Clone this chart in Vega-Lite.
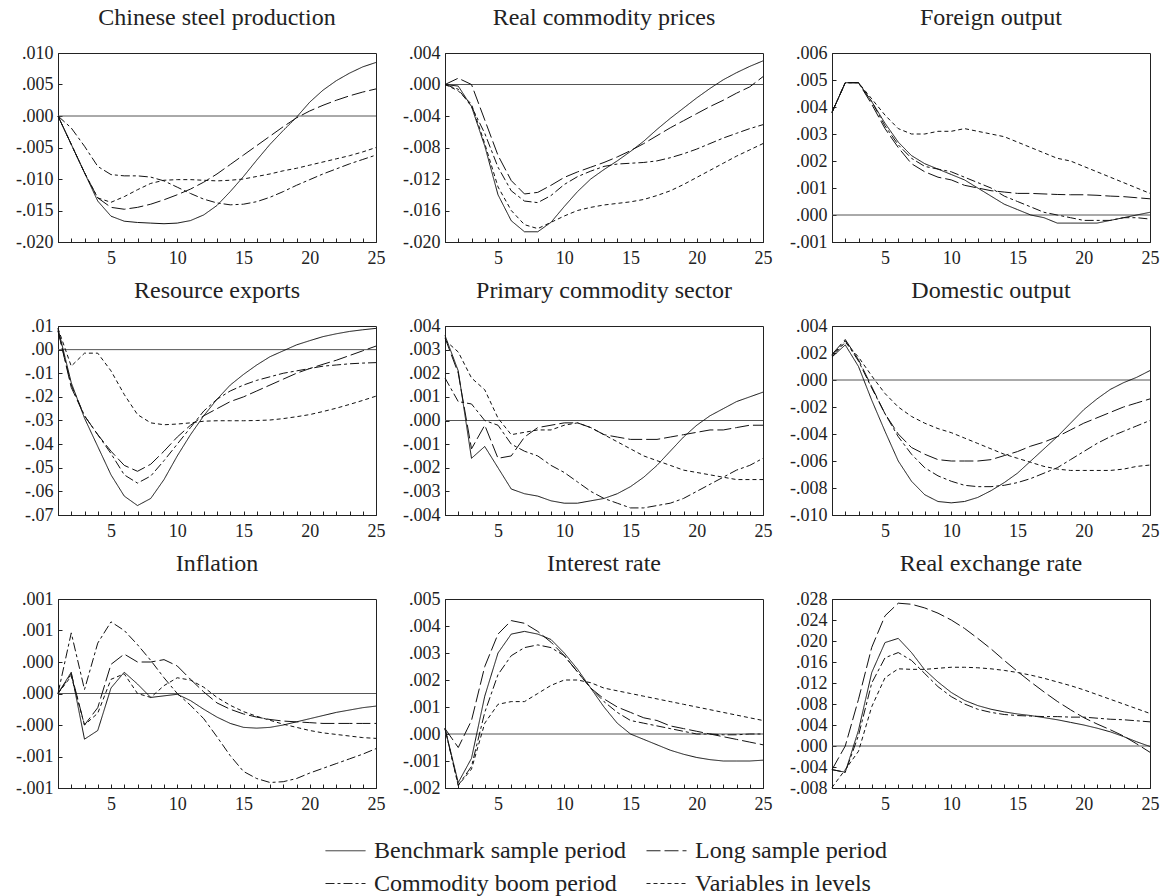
{
"$schema": "https://vega.github.io/schema/vega-lite/v6.json",
"padding": {"left": 7, "top": 5, "right": 3, "bottom": 0},
"autosize": {"type": "pad"},
"columns": 3,
"spacing": {"row": 9, "column": 8},
"config": {
  "font": "Liberation Serif, DejaVu Serif, serif",
  "view": {"stroke": "#222", "strokeWidth": 1},
  "title": {"fontSize": 24, "fontWeight": "normal", "font": "Liberation Serif, DejaVu Serif, serif", "color": "#222", "offset": 14, "anchor": "middle"},
  "axis": {"grid": false, "domainColor": "#222", "tickColor": "#222", "labelColor": "#222", "labelFont": "Liberation Serif, DejaVu Serif, serif", "labelFontSize": 18, "tickSize": -4, "labelFlush": false, "labelOverlap": false},
  "axisX": {"labelPadding": 11, "minExtent": 26, "maxExtent": 26},
  "axisY": {"labelPadding": 9, "minExtent": 50, "maxExtent": 50}
},
"data": {"values": [
{"p":1,"s":"B","t":1,"v":0},{"p":1,"s":"B","t":2,"v":-0.0045},{"p":1,"s":"B","t":3,"v":-0.009},{"p":1,"s":"B","t":4,"v":-0.0135},{"p":1,"s":"B","t":5,"v":-0.0159},{"p":1,"s":"B","t":6,"v":-0.0167},{"p":1,"s":"B","t":7,"v":-0.0169},{"p":1,"s":"B","t":8,"v":-0.017},{"p":1,"s":"B","t":9,"v":-0.0171},{"p":1,"s":"B","t":10,"v":-0.017},{"p":1,"s":"B","t":11,"v":-0.0166},{"p":1,"s":"B","t":12,"v":-0.0157},{"p":1,"s":"B","t":13,"v":-0.0142},{"p":1,"s":"B","t":14,"v":-0.012},{"p":1,"s":"B","t":15,"v":-0.0096},{"p":1,"s":"B","t":16,"v":-0.007},{"p":1,"s":"B","t":17,"v":-0.0045},{"p":1,"s":"B","t":18,"v":-0.0023},{"p":1,"s":"B","t":19,"v":-0.0002},{"p":1,"s":"B","t":20,"v":0.0022},{"p":1,"s":"B","t":21,"v":0.0041},{"p":1,"s":"B","t":22,"v":0.0056},{"p":1,"s":"B","t":23,"v":0.0068},{"p":1,"s":"B","t":24,"v":0.0078},{"p":1,"s":"B","t":25,"v":0.0085},
{"p":1,"s":"L","t":1,"v":0},{"p":1,"s":"L","t":2,"v":-0.0045},{"p":1,"s":"L","t":3,"v":-0.009},{"p":1,"s":"L","t":4,"v":-0.013},{"p":1,"s":"L","t":5,"v":-0.0145},{"p":1,"s":"L","t":6,"v":-0.0148},{"p":1,"s":"L","t":7,"v":-0.0145},{"p":1,"s":"L","t":8,"v":-0.014},{"p":1,"s":"L","t":9,"v":-0.0133},{"p":1,"s":"L","t":10,"v":-0.0125},{"p":1,"s":"L","t":11,"v":-0.0116},{"p":1,"s":"L","t":12,"v":-0.0105},{"p":1,"s":"L","t":13,"v":-0.0092},{"p":1,"s":"L","t":14,"v":-0.0077},{"p":1,"s":"L","t":15,"v":-0.0062},{"p":1,"s":"L","t":16,"v":-0.0047},{"p":1,"s":"L","t":17,"v":-0.0032},{"p":1,"s":"L","t":18,"v":-0.0017},{"p":1,"s":"L","t":19,"v":-0.0003},{"p":1,"s":"L","t":20,"v":0.0008},{"p":1,"s":"L","t":21,"v":0.0017},{"p":1,"s":"L","t":22,"v":0.0025},{"p":1,"s":"L","t":23,"v":0.0032},{"p":1,"s":"L","t":24,"v":0.0038},{"p":1,"s":"L","t":25,"v":0.0043},
{"p":1,"s":"C","t":1,"v":0},{"p":1,"s":"C","t":2,"v":-0.0019},{"p":1,"s":"C","t":3,"v":-0.0048},{"p":1,"s":"C","t":4,"v":-0.008},{"p":1,"s":"C","t":5,"v":-0.0093},{"p":1,"s":"C","t":6,"v":-0.0095},{"p":1,"s":"C","t":7,"v":-0.0095},{"p":1,"s":"C","t":8,"v":-0.0097},{"p":1,"s":"C","t":9,"v":-0.0103},{"p":1,"s":"C","t":10,"v":-0.0113},{"p":1,"s":"C","t":11,"v":-0.0123},{"p":1,"s":"C","t":12,"v":-0.0132},{"p":1,"s":"C","t":13,"v":-0.0138},{"p":1,"s":"C","t":14,"v":-0.0141},{"p":1,"s":"C","t":15,"v":-0.014},{"p":1,"s":"C","t":16,"v":-0.0136},{"p":1,"s":"C","t":17,"v":-0.0129},{"p":1,"s":"C","t":18,"v":-0.012},{"p":1,"s":"C","t":19,"v":-0.011},{"p":1,"s":"C","t":20,"v":-0.0101},{"p":1,"s":"C","t":21,"v":-0.0092},{"p":1,"s":"C","t":22,"v":-0.0084},{"p":1,"s":"C","t":23,"v":-0.0076},{"p":1,"s":"C","t":24,"v":-0.0069},{"p":1,"s":"C","t":25,"v":-0.0062},
{"p":1,"s":"V","t":1,"v":0},{"p":1,"s":"V","t":2,"v":-0.0045},{"p":1,"s":"V","t":3,"v":-0.009},{"p":1,"s":"V","t":4,"v":-0.013},{"p":1,"s":"V","t":5,"v":-0.0137},{"p":1,"s":"V","t":6,"v":-0.0128},{"p":1,"s":"V","t":7,"v":-0.0117},{"p":1,"s":"V","t":8,"v":-0.0107},{"p":1,"s":"V","t":9,"v":-0.0102},{"p":1,"s":"V","t":10,"v":-0.0101},{"p":1,"s":"V","t":11,"v":-0.0101},{"p":1,"s":"V","t":12,"v":-0.0102},{"p":1,"s":"V","t":13,"v":-0.0103},{"p":1,"s":"V","t":14,"v":-0.0102},{"p":1,"s":"V","t":15,"v":-0.01},{"p":1,"s":"V","t":16,"v":-0.0096},{"p":1,"s":"V","t":17,"v":-0.0092},{"p":1,"s":"V","t":18,"v":-0.0087},{"p":1,"s":"V","t":19,"v":-0.0083},{"p":1,"s":"V","t":20,"v":-0.0078},{"p":1,"s":"V","t":21,"v":-0.0073},{"p":1,"s":"V","t":22,"v":-0.0068},{"p":1,"s":"V","t":23,"v":-0.0063},{"p":1,"s":"V","t":24,"v":-0.0057},{"p":1,"s":"V","t":25,"v":-0.005},
{"p":2,"s":"B","t":1,"v":0},{"p":2,"s":"B","t":2,"v":-0.0002},{"p":2,"s":"B","t":3,"v":-0.0028},{"p":2,"s":"B","t":4,"v":-0.0078},{"p":2,"s":"B","t":5,"v":-0.014},{"p":2,"s":"B","t":6,"v":-0.0173},{"p":2,"s":"B","t":7,"v":-0.0187},{"p":2,"s":"B","t":8,"v":-0.0187},{"p":2,"s":"B","t":9,"v":-0.0175},{"p":2,"s":"B","t":10,"v":-0.0155},{"p":2,"s":"B","t":11,"v":-0.0136},{"p":2,"s":"B","t":12,"v":-0.012},{"p":2,"s":"B","t":13,"v":-0.0108},{"p":2,"s":"B","t":14,"v":-0.0097},{"p":2,"s":"B","t":15,"v":-0.0085},{"p":2,"s":"B","t":16,"v":-0.0072},{"p":2,"s":"B","t":17,"v":-0.0057},{"p":2,"s":"B","t":18,"v":-0.0043},{"p":2,"s":"B","t":19,"v":-0.003},{"p":2,"s":"B","t":20,"v":-0.0017},{"p":2,"s":"B","t":21,"v":-0.0005},{"p":2,"s":"B","t":22,"v":0.0006},{"p":2,"s":"B","t":23,"v":0.0015},{"p":2,"s":"B","t":24,"v":0.0023},{"p":2,"s":"B","t":25,"v":0.003},
{"p":2,"s":"L","t":1,"v":0},{"p":2,"s":"L","t":2,"v":0.0008},{"p":2,"s":"L","t":3,"v":0},{"p":2,"s":"L","t":4,"v":-0.0045},{"p":2,"s":"L","t":5,"v":-0.009},{"p":2,"s":"L","t":6,"v":-0.0122},{"p":2,"s":"L","t":7,"v":-0.0139},{"p":2,"s":"L","t":8,"v":-0.0137},{"p":2,"s":"L","t":9,"v":-0.0128},{"p":2,"s":"L","t":10,"v":-0.0118},{"p":2,"s":"L","t":11,"v":-0.0111},{"p":2,"s":"L","t":12,"v":-0.0105},{"p":2,"s":"L","t":13,"v":-0.0099},{"p":2,"s":"L","t":14,"v":-0.0092},{"p":2,"s":"L","t":15,"v":-0.0084},{"p":2,"s":"L","t":16,"v":-0.0075},{"p":2,"s":"L","t":17,"v":-0.0065},{"p":2,"s":"L","t":18,"v":-0.0055},{"p":2,"s":"L","t":19,"v":-0.0046},{"p":2,"s":"L","t":20,"v":-0.0037},{"p":2,"s":"L","t":21,"v":-0.0028},{"p":2,"s":"L","t":22,"v":-0.002},{"p":2,"s":"L","t":23,"v":-0.0011},{"p":2,"s":"L","t":24,"v":-0.0003},{"p":2,"s":"L","t":25,"v":0.001},
{"p":2,"s":"C","t":1,"v":0},{"p":2,"s":"C","t":2,"v":-0.0006},{"p":2,"s":"C","t":3,"v":-0.0028},{"p":2,"s":"C","t":4,"v":-0.0062},{"p":2,"s":"C","t":5,"v":-0.0105},{"p":2,"s":"C","t":6,"v":-0.0135},{"p":2,"s":"C","t":7,"v":-0.0148},{"p":2,"s":"C","t":8,"v":-0.015},{"p":2,"s":"C","t":9,"v":-0.0141},{"p":2,"s":"C","t":10,"v":-0.0127},{"p":2,"s":"C","t":11,"v":-0.0117},{"p":2,"s":"C","t":12,"v":-0.011},{"p":2,"s":"C","t":13,"v":-0.0104},{"p":2,"s":"C","t":14,"v":-0.0101},{"p":2,"s":"C","t":15,"v":-0.01},{"p":2,"s":"C","t":16,"v":-0.0099},{"p":2,"s":"C","t":17,"v":-0.0097},{"p":2,"s":"C","t":18,"v":-0.0093},{"p":2,"s":"C","t":19,"v":-0.0088},{"p":2,"s":"C","t":20,"v":-0.0082},{"p":2,"s":"C","t":21,"v":-0.0075},{"p":2,"s":"C","t":22,"v":-0.0068},{"p":2,"s":"C","t":23,"v":-0.0062},{"p":2,"s":"C","t":24,"v":-0.0056},{"p":2,"s":"C","t":25,"v":-0.0051},
{"p":2,"s":"V","t":1,"v":0},{"p":2,"s":"V","t":2,"v":-0.0008},{"p":2,"s":"V","t":3,"v":-0.0025},{"p":2,"s":"V","t":4,"v":-0.0075},{"p":2,"s":"V","t":5,"v":-0.013},{"p":2,"s":"V","t":6,"v":-0.016},{"p":2,"s":"V","t":7,"v":-0.0178},{"p":2,"s":"V","t":8,"v":-0.0183},{"p":2,"s":"V","t":9,"v":-0.0175},{"p":2,"s":"V","t":10,"v":-0.0167},{"p":2,"s":"V","t":11,"v":-0.016},{"p":2,"s":"V","t":12,"v":-0.0156},{"p":2,"s":"V","t":13,"v":-0.0153},{"p":2,"s":"V","t":14,"v":-0.0151},{"p":2,"s":"V","t":15,"v":-0.0149},{"p":2,"s":"V","t":16,"v":-0.0146},{"p":2,"s":"V","t":17,"v":-0.0141},{"p":2,"s":"V","t":18,"v":-0.0135},{"p":2,"s":"V","t":19,"v":-0.0127},{"p":2,"s":"V","t":20,"v":-0.0118},{"p":2,"s":"V","t":21,"v":-0.0109},{"p":2,"s":"V","t":22,"v":-0.01},{"p":2,"s":"V","t":23,"v":-0.0091},{"p":2,"s":"V","t":24,"v":-0.0083},{"p":2,"s":"V","t":25,"v":-0.0075},
{"p":3,"s":"B","t":1,"v":0.0038},{"p":3,"s":"B","t":2,"v":0.0049},{"p":3,"s":"B","t":3,"v":0.0049},{"p":3,"s":"B","t":4,"v":0.0042},{"p":3,"s":"B","t":5,"v":0.0034},{"p":3,"s":"B","t":6,"v":0.0027},{"p":3,"s":"B","t":7,"v":0.0022},{"p":3,"s":"B","t":8,"v":0.0019},{"p":3,"s":"B","t":9,"v":0.0017},{"p":3,"s":"B","t":10,"v":0.0015},{"p":3,"s":"B","t":11,"v":0.0013},{"p":3,"s":"B","t":12,"v":0.001},{"p":3,"s":"B","t":13,"v":0.0007},{"p":3,"s":"B","t":14,"v":0.0004},{"p":3,"s":"B","t":15,"v":0.0002},{"p":3,"s":"B","t":16,"v":0},{"p":3,"s":"B","t":17,"v":-0.0001},{"p":3,"s":"B","t":18,"v":-0.0003},{"p":3,"s":"B","t":19,"v":-0.0003},{"p":3,"s":"B","t":20,"v":-0.0003},{"p":3,"s":"B","t":21,"v":-0.0003},{"p":3,"s":"B","t":22,"v":-0.0002},{"p":3,"s":"B","t":23,"v":-0.0001},{"p":3,"s":"B","t":24,"v":0},{"p":3,"s":"B","t":25,"v":0.0001},
{"p":3,"s":"L","t":1,"v":0.0038},{"p":3,"s":"L","t":2,"v":0.0049},{"p":3,"s":"L","t":3,"v":0.0049},{"p":3,"s":"L","t":4,"v":0.0041},{"p":3,"s":"L","t":5,"v":0.0032},{"p":3,"s":"L","t":6,"v":0.0025},{"p":3,"s":"L","t":7,"v":0.0019},{"p":3,"s":"L","t":8,"v":0.0016},{"p":3,"s":"L","t":9,"v":0.0014},{"p":3,"s":"L","t":10,"v":0.0013},{"p":3,"s":"L","t":11,"v":0.0011},{"p":3,"s":"L","t":12,"v":0.001},{"p":3,"s":"L","t":13,"v":0.0009},{"p":3,"s":"L","t":14,"v":0.00085},{"p":3,"s":"L","t":15,"v":0.0008},{"p":3,"s":"L","t":16,"v":0.0008},{"p":3,"s":"L","t":17,"v":0.00078},{"p":3,"s":"L","t":18,"v":0.00076},{"p":3,"s":"L","t":19,"v":0.00075},{"p":3,"s":"L","t":20,"v":0.00075},{"p":3,"s":"L","t":21,"v":0.00073},{"p":3,"s":"L","t":22,"v":0.0007},{"p":3,"s":"L","t":23,"v":0.00068},{"p":3,"s":"L","t":24,"v":0.00064},{"p":3,"s":"L","t":25,"v":0.0006},
{"p":3,"s":"C","t":1,"v":0.0038},{"p":3,"s":"C","t":2,"v":0.0049},{"p":3,"s":"C","t":3,"v":0.0049},{"p":3,"s":"C","t":4,"v":0.0042},{"p":3,"s":"C","t":5,"v":0.0033},{"p":3,"s":"C","t":6,"v":0.0026},{"p":3,"s":"C","t":7,"v":0.0021},{"p":3,"s":"C","t":8,"v":0.0018},{"p":3,"s":"C","t":9,"v":0.0017},{"p":3,"s":"C","t":10,"v":0.0016},{"p":3,"s":"C","t":11,"v":0.0014},{"p":3,"s":"C","t":12,"v":0.0012},{"p":3,"s":"C","t":13,"v":0.001},{"p":3,"s":"C","t":14,"v":0.0007},{"p":3,"s":"C","t":15,"v":0.0005},{"p":3,"s":"C","t":16,"v":0.0003},{"p":3,"s":"C","t":17,"v":0.0001},{"p":3,"s":"C","t":18,"v":0},{"p":3,"s":"C","t":19,"v":-0.0001},{"p":3,"s":"C","t":20,"v":-0.0002},{"p":3,"s":"C","t":21,"v":-0.0002},{"p":3,"s":"C","t":22,"v":-0.0002},{"p":3,"s":"C","t":23,"v":-0.0001},{"p":3,"s":"C","t":24,"v":-0.0001},{"p":3,"s":"C","t":25,"v":-0.00015},
{"p":3,"s":"V","t":1,"v":0.0038},{"p":3,"s":"V","t":2,"v":0.0049},{"p":3,"s":"V","t":3,"v":0.0049},{"p":3,"s":"V","t":4,"v":0.0043},{"p":3,"s":"V","t":5,"v":0.0037},{"p":3,"s":"V","t":6,"v":0.0032},{"p":3,"s":"V","t":7,"v":0.003},{"p":3,"s":"V","t":8,"v":0.003},{"p":3,"s":"V","t":9,"v":0.0031},{"p":3,"s":"V","t":10,"v":0.0031},{"p":3,"s":"V","t":11,"v":0.0032},{"p":3,"s":"V","t":12,"v":0.0031},{"p":3,"s":"V","t":13,"v":0.003},{"p":3,"s":"V","t":14,"v":0.0029},{"p":3,"s":"V","t":15,"v":0.0027},{"p":3,"s":"V","t":16,"v":0.0025},{"p":3,"s":"V","t":17,"v":0.0023},{"p":3,"s":"V","t":18,"v":0.0021},{"p":3,"s":"V","t":19,"v":0.002},{"p":3,"s":"V","t":20,"v":0.0018},{"p":3,"s":"V","t":21,"v":0.0016},{"p":3,"s":"V","t":22,"v":0.0014},{"p":3,"s":"V","t":23,"v":0.0012},{"p":3,"s":"V","t":24,"v":0.001},{"p":3,"s":"V","t":25,"v":0.0008},
{"p":4,"s":"B","t":1,"v":0.009},{"p":4,"s":"B","t":2,"v":-0.014},{"p":4,"s":"B","t":3,"v":-0.029},{"p":4,"s":"B","t":4,"v":-0.041},{"p":4,"s":"B","t":5,"v":-0.053},{"p":4,"s":"B","t":6,"v":-0.062},{"p":4,"s":"B","t":7,"v":-0.066},{"p":4,"s":"B","t":8,"v":-0.063},{"p":4,"s":"B","t":9,"v":-0.055},{"p":4,"s":"B","t":10,"v":-0.045},{"p":4,"s":"B","t":11,"v":-0.036},{"p":4,"s":"B","t":12,"v":-0.028},{"p":4,"s":"B","t":13,"v":-0.021},{"p":4,"s":"B","t":14,"v":-0.015},{"p":4,"s":"B","t":15,"v":-0.0105},{"p":4,"s":"B","t":16,"v":-0.0065},{"p":4,"s":"B","t":17,"v":-0.003},{"p":4,"s":"B","t":18,"v":-0.0005},{"p":4,"s":"B","t":19,"v":0.002},{"p":4,"s":"B","t":20,"v":0.0038},{"p":4,"s":"B","t":21,"v":0.0055},{"p":4,"s":"B","t":22,"v":0.0067},{"p":4,"s":"B","t":23,"v":0.0077},{"p":4,"s":"B","t":24,"v":0.0084},{"p":4,"s":"B","t":25,"v":0.009},
{"p":4,"s":"L","t":1,"v":0.008},{"p":4,"s":"L","t":2,"v":-0.016},{"p":4,"s":"L","t":3,"v":-0.028},{"p":4,"s":"L","t":4,"v":-0.036},{"p":4,"s":"L","t":5,"v":-0.043},{"p":4,"s":"L","t":6,"v":-0.049},{"p":4,"s":"L","t":7,"v":-0.0515},{"p":4,"s":"L","t":8,"v":-0.0485},{"p":4,"s":"L","t":9,"v":-0.043},{"p":4,"s":"L","t":10,"v":-0.037},{"p":4,"s":"L","t":11,"v":-0.032},{"p":4,"s":"L","t":12,"v":-0.028},{"p":4,"s":"L","t":13,"v":-0.025},{"p":4,"s":"L","t":14,"v":-0.022},{"p":4,"s":"L","t":15,"v":-0.02},{"p":4,"s":"L","t":16,"v":-0.0175},{"p":4,"s":"L","t":17,"v":-0.015},{"p":4,"s":"L","t":18,"v":-0.0125},{"p":4,"s":"L","t":19,"v":-0.01},{"p":4,"s":"L","t":20,"v":-0.008},{"p":4,"s":"L","t":21,"v":-0.0062},{"p":4,"s":"L","t":22,"v":-0.0045},{"p":4,"s":"L","t":23,"v":-0.0025},{"p":4,"s":"L","t":24,"v":-0.0005},{"p":4,"s":"L","t":25,"v":0.0015},
{"p":4,"s":"C","t":1,"v":0.008},{"p":4,"s":"C","t":2,"v":-0.015},{"p":4,"s":"C","t":3,"v":-0.028},{"p":4,"s":"C","t":4,"v":-0.036},{"p":4,"s":"C","t":5,"v":-0.044},{"p":4,"s":"C","t":6,"v":-0.053},{"p":4,"s":"C","t":7,"v":-0.0565},{"p":4,"s":"C","t":8,"v":-0.0535},{"p":4,"s":"C","t":9,"v":-0.047},{"p":4,"s":"C","t":10,"v":-0.04},{"p":4,"s":"C","t":11,"v":-0.033},{"p":4,"s":"C","t":12,"v":-0.026},{"p":4,"s":"C","t":13,"v":-0.021},{"p":4,"s":"C","t":14,"v":-0.0175},{"p":4,"s":"C","t":15,"v":-0.015},{"p":4,"s":"C","t":16,"v":-0.013},{"p":4,"s":"C","t":17,"v":-0.0115},{"p":4,"s":"C","t":18,"v":-0.01},{"p":4,"s":"C","t":19,"v":-0.009},{"p":4,"s":"C","t":20,"v":-0.008},{"p":4,"s":"C","t":21,"v":-0.007},{"p":4,"s":"C","t":22,"v":-0.0065},{"p":4,"s":"C","t":23,"v":-0.006},{"p":4,"s":"C","t":24,"v":-0.0057},{"p":4,"s":"C","t":25,"v":-0.0055},
{"p":4,"s":"V","t":1,"v":0.009},{"p":4,"s":"V","t":2,"v":-0.007},{"p":4,"s":"V","t":3,"v":-0.0015},{"p":4,"s":"V","t":4,"v":-0.0015},{"p":4,"s":"V","t":5,"v":-0.009},{"p":4,"s":"V","t":6,"v":-0.019},{"p":4,"s":"V","t":7,"v":-0.0275},{"p":4,"s":"V","t":8,"v":-0.031},{"p":4,"s":"V","t":9,"v":-0.0318},{"p":4,"s":"V","t":10,"v":-0.0315},{"p":4,"s":"V","t":11,"v":-0.031},{"p":4,"s":"V","t":12,"v":-0.0303},{"p":4,"s":"V","t":13,"v":-0.0301},{"p":4,"s":"V","t":14,"v":-0.0301},{"p":4,"s":"V","t":15,"v":-0.0301},{"p":4,"s":"V","t":16,"v":-0.03},{"p":4,"s":"V","t":17,"v":-0.0298},{"p":4,"s":"V","t":18,"v":-0.0292},{"p":4,"s":"V","t":19,"v":-0.0284},{"p":4,"s":"V","t":20,"v":-0.0275},{"p":4,"s":"V","t":21,"v":-0.0262},{"p":4,"s":"V","t":22,"v":-0.0248},{"p":4,"s":"V","t":23,"v":-0.0232},{"p":4,"s":"V","t":24,"v":-0.0215},{"p":4,"s":"V","t":25,"v":-0.0197},
{"p":5,"s":"B","t":1,"v":0.0036},{"p":5,"s":"B","t":2,"v":0.0021},{"p":5,"s":"B","t":3,"v":-0.0016},{"p":5,"s":"B","t":4,"v":-0.0011},{"p":5,"s":"B","t":5,"v":-0.002},{"p":5,"s":"B","t":6,"v":-0.0029},{"p":5,"s":"B","t":7,"v":-0.0031},{"p":5,"s":"B","t":8,"v":-0.0032},{"p":5,"s":"B","t":9,"v":-0.0034},{"p":5,"s":"B","t":10,"v":-0.0035},{"p":5,"s":"B","t":11,"v":-0.0035},{"p":5,"s":"B","t":12,"v":-0.0034},{"p":5,"s":"B","t":13,"v":-0.0033},{"p":5,"s":"B","t":14,"v":-0.0031},{"p":5,"s":"B","t":15,"v":-0.0028},{"p":5,"s":"B","t":16,"v":-0.0024},{"p":5,"s":"B","t":17,"v":-0.0019},{"p":5,"s":"B","t":18,"v":-0.0013},{"p":5,"s":"B","t":19,"v":-0.0007},{"p":5,"s":"B","t":20,"v":-0.0002},{"p":5,"s":"B","t":21,"v":0.0002},{"p":5,"s":"B","t":22,"v":0.0005},{"p":5,"s":"B","t":23,"v":0.0008},{"p":5,"s":"B","t":24,"v":0.001},{"p":5,"s":"B","t":25,"v":0.0012},
{"p":5,"s":"L","t":1,"v":0.0035},{"p":5,"s":"L","t":2,"v":0.002},{"p":5,"s":"L","t":3,"v":-0.0012},{"p":5,"s":"L","t":4,"v":-0.0002},{"p":5,"s":"L","t":5,"v":-0.0016},{"p":5,"s":"L","t":6,"v":-0.0015},{"p":5,"s":"L","t":7,"v":-0.0007},{"p":5,"s":"L","t":8,"v":-0.0003},{"p":5,"s":"L","t":9,"v":-0.0002},{"p":5,"s":"L","t":10,"v":-0.0001},{"p":5,"s":"L","t":11,"v":-0.0001},{"p":5,"s":"L","t":12,"v":-0.0003},{"p":5,"s":"L","t":13,"v":-0.0006},{"p":5,"s":"L","t":14,"v":-0.0007},{"p":5,"s":"L","t":15,"v":-0.0008},{"p":5,"s":"L","t":16,"v":-0.0008},{"p":5,"s":"L","t":17,"v":-0.0008},{"p":5,"s":"L","t":18,"v":-0.0007},{"p":5,"s":"L","t":19,"v":-0.0006},{"p":5,"s":"L","t":20,"v":-0.0005},{"p":5,"s":"L","t":21,"v":-0.0004},{"p":5,"s":"L","t":22,"v":-0.0004},{"p":5,"s":"L","t":23,"v":-0.0003},{"p":5,"s":"L","t":24,"v":-0.0002},{"p":5,"s":"L","t":25,"v":-0.0002},
{"p":5,"s":"C","t":1,"v":0.0018},{"p":5,"s":"C","t":2,"v":0.0008},{"p":5,"s":"C","t":3,"v":0.0007},{"p":5,"s":"C","t":4,"v":0},{"p":5,"s":"C","t":5,"v":-0.0002},{"p":5,"s":"C","t":6,"v":-0.001},{"p":5,"s":"C","t":7,"v":-0.0013},{"p":5,"s":"C","t":8,"v":-0.0015},{"p":5,"s":"C","t":9,"v":-0.0019},{"p":5,"s":"C","t":10,"v":-0.0022},{"p":5,"s":"C","t":11,"v":-0.0026},{"p":5,"s":"C","t":12,"v":-0.003},{"p":5,"s":"C","t":13,"v":-0.0033},{"p":5,"s":"C","t":14,"v":-0.0035},{"p":5,"s":"C","t":15,"v":-0.0037},{"p":5,"s":"C","t":16,"v":-0.0037},{"p":5,"s":"C","t":17,"v":-0.0036},{"p":5,"s":"C","t":18,"v":-0.0035},{"p":5,"s":"C","t":19,"v":-0.0033},{"p":5,"s":"C","t":20,"v":-0.003},{"p":5,"s":"C","t":21,"v":-0.0027},{"p":5,"s":"C","t":22,"v":-0.0024},{"p":5,"s":"C","t":23,"v":-0.0021},{"p":5,"s":"C","t":24,"v":-0.0019},{"p":5,"s":"C","t":25,"v":-0.0016},
{"p":5,"s":"V","t":1,"v":0.0034},{"p":5,"s":"V","t":2,"v":0.0029},{"p":5,"s":"V","t":3,"v":0.0018},{"p":5,"s":"V","t":4,"v":0.0013},{"p":5,"s":"V","t":5,"v":0.0001},{"p":5,"s":"V","t":6,"v":-0.0006},{"p":5,"s":"V","t":7,"v":-0.0005},{"p":5,"s":"V","t":8,"v":-0.0004},{"p":5,"s":"V","t":9,"v":-0.0004},{"p":5,"s":"V","t":10,"v":-0.0002},{"p":5,"s":"V","t":11,"v":-0.0001},{"p":5,"s":"V","t":12,"v":-0.0003},{"p":5,"s":"V","t":13,"v":-0.0006},{"p":5,"s":"V","t":14,"v":-0.0009},{"p":5,"s":"V","t":15,"v":-0.0012},{"p":5,"s":"V","t":16,"v":-0.0015},{"p":5,"s":"V","t":17,"v":-0.0017},{"p":5,"s":"V","t":18,"v":-0.0019},{"p":5,"s":"V","t":19,"v":-0.0021},{"p":5,"s":"V","t":20,"v":-0.0022},{"p":5,"s":"V","t":21,"v":-0.0023},{"p":5,"s":"V","t":22,"v":-0.0024},{"p":5,"s":"V","t":23,"v":-0.0025},{"p":5,"s":"V","t":24,"v":-0.0025},{"p":5,"s":"V","t":25,"v":-0.0025},
{"p":6,"s":"B","t":1,"v":0.0017},{"p":6,"s":"B","t":2,"v":0.0026},{"p":6,"s":"B","t":3,"v":0.001},{"p":6,"s":"B","t":4,"v":-0.0015},{"p":6,"s":"B","t":5,"v":-0.0038},{"p":6,"s":"B","t":6,"v":-0.006},{"p":6,"s":"B","t":7,"v":-0.0075},{"p":6,"s":"B","t":8,"v":-0.0085},{"p":6,"s":"B","t":9,"v":-0.009},{"p":6,"s":"B","t":10,"v":-0.0091},{"p":6,"s":"B","t":11,"v":-0.009},{"p":6,"s":"B","t":12,"v":-0.0087},{"p":6,"s":"B","t":13,"v":-0.0082},{"p":6,"s":"B","t":14,"v":-0.0076},{"p":6,"s":"B","t":15,"v":-0.0069},{"p":6,"s":"B","t":16,"v":-0.006},{"p":6,"s":"B","t":17,"v":-0.0051},{"p":6,"s":"B","t":18,"v":-0.0042},{"p":6,"s":"B","t":19,"v":-0.0032},{"p":6,"s":"B","t":20,"v":-0.0022},{"p":6,"s":"B","t":21,"v":-0.0014},{"p":6,"s":"B","t":22,"v":-0.0007},{"p":6,"s":"B","t":23,"v":-0.0002},{"p":6,"s":"B","t":24,"v":0.0002},{"p":6,"s":"B","t":25,"v":0.0007},
{"p":6,"s":"L","t":1,"v":0.0019},{"p":6,"s":"L","t":2,"v":0.003},{"p":6,"s":"L","t":3,"v":0.0015},{"p":6,"s":"L","t":4,"v":-0.0005},{"p":6,"s":"L","t":5,"v":-0.0025},{"p":6,"s":"L","t":6,"v":-0.004},{"p":6,"s":"L","t":7,"v":-0.005},{"p":6,"s":"L","t":8,"v":-0.0055},{"p":6,"s":"L","t":9,"v":-0.0059},{"p":6,"s":"L","t":10,"v":-0.006},{"p":6,"s":"L","t":11,"v":-0.006},{"p":6,"s":"L","t":12,"v":-0.006},{"p":6,"s":"L","t":13,"v":-0.0059},{"p":6,"s":"L","t":14,"v":-0.0056},{"p":6,"s":"L","t":15,"v":-0.0053},{"p":6,"s":"L","t":16,"v":-0.0049},{"p":6,"s":"L","t":17,"v":-0.0046},{"p":6,"s":"L","t":18,"v":-0.0042},{"p":6,"s":"L","t":19,"v":-0.0037},{"p":6,"s":"L","t":20,"v":-0.0032},{"p":6,"s":"L","t":21,"v":-0.0028},{"p":6,"s":"L","t":22,"v":-0.0024},{"p":6,"s":"L","t":23,"v":-0.002},{"p":6,"s":"L","t":24,"v":-0.0017},{"p":6,"s":"L","t":25,"v":-0.0014},
{"p":6,"s":"C","t":1,"v":0.0018},{"p":6,"s":"C","t":2,"v":0.0029},{"p":6,"s":"C","t":3,"v":0.0014},{"p":6,"s":"C","t":4,"v":-0.0006},{"p":6,"s":"C","t":5,"v":-0.0025},{"p":6,"s":"C","t":6,"v":-0.0042},{"p":6,"s":"C","t":7,"v":-0.0055},{"p":6,"s":"C","t":8,"v":-0.0065},{"p":6,"s":"C","t":9,"v":-0.0071},{"p":6,"s":"C","t":10,"v":-0.0075},{"p":6,"s":"C","t":11,"v":-0.0078},{"p":6,"s":"C","t":12,"v":-0.0079},{"p":6,"s":"C","t":13,"v":-0.0079},{"p":6,"s":"C","t":14,"v":-0.0078},{"p":6,"s":"C","t":15,"v":-0.0076},{"p":6,"s":"C","t":16,"v":-0.0073},{"p":6,"s":"C","t":17,"v":-0.0069},{"p":6,"s":"C","t":18,"v":-0.0065},{"p":6,"s":"C","t":19,"v":-0.0059},{"p":6,"s":"C","t":20,"v":-0.0053},{"p":6,"s":"C","t":21,"v":-0.0047},{"p":6,"s":"C","t":22,"v":-0.0042},{"p":6,"s":"C","t":23,"v":-0.0038},{"p":6,"s":"C","t":24,"v":-0.0034},{"p":6,"s":"C","t":25,"v":-0.003},
{"p":6,"s":"V","t":1,"v":0.0017},{"p":6,"s":"V","t":2,"v":0.0028},{"p":6,"s":"V","t":3,"v":0.0017},{"p":6,"s":"V","t":4,"v":0.0003},{"p":6,"s":"V","t":5,"v":-0.001},{"p":6,"s":"V","t":6,"v":-0.002},{"p":6,"s":"V","t":7,"v":-0.0027},{"p":6,"s":"V","t":8,"v":-0.0032},{"p":6,"s":"V","t":9,"v":-0.0036},{"p":6,"s":"V","t":10,"v":-0.0039},{"p":6,"s":"V","t":11,"v":-0.0043},{"p":6,"s":"V","t":12,"v":-0.0047},{"p":6,"s":"V","t":13,"v":-0.0051},{"p":6,"s":"V","t":14,"v":-0.0055},{"p":6,"s":"V","t":15,"v":-0.0058},{"p":6,"s":"V","t":16,"v":-0.0061},{"p":6,"s":"V","t":17,"v":-0.0064},{"p":6,"s":"V","t":18,"v":-0.0066},{"p":6,"s":"V","t":19,"v":-0.0067},{"p":6,"s":"V","t":20,"v":-0.0067},{"p":6,"s":"V","t":21,"v":-0.0067},{"p":6,"s":"V","t":22,"v":-0.0067},{"p":6,"s":"V","t":23,"v":-0.0066},{"p":6,"s":"V","t":24,"v":-0.0064},{"p":6,"s":"V","t":25,"v":-0.0063},
{"p":7,"s":"B","t":1,"v":0},{"p":7,"s":"B","t":2,"v":0.00027},{"p":7,"s":"B","t":3,"v":-0.00058},{"p":7,"s":"B","t":4,"v":-0.00047},{"p":7,"s":"B","t":5,"v":0.00007},{"p":7,"s":"B","t":6,"v":0.00027},{"p":7,"s":"B","t":7,"v":0.00012},{"p":7,"s":"B","t":8,"v":-0.00005},{"p":7,"s":"B","t":9,"v":-0.00003},{"p":7,"s":"B","t":10,"v":-0.00001},{"p":7,"s":"B","t":11,"v":-0.00009},{"p":7,"s":"B","t":12,"v":-0.0002},{"p":7,"s":"B","t":13,"v":-0.0003},{"p":7,"s":"B","t":14,"v":-0.00038},{"p":7,"s":"B","t":15,"v":-0.00043},{"p":7,"s":"B","t":16,"v":-0.00044},{"p":7,"s":"B","t":17,"v":-0.00043},{"p":7,"s":"B","t":18,"v":-0.0004},{"p":7,"s":"B","t":19,"v":-0.00036},{"p":7,"s":"B","t":20,"v":-0.00032},{"p":7,"s":"B","t":21,"v":-0.00028},{"p":7,"s":"B","t":22,"v":-0.00024},{"p":7,"s":"B","t":23,"v":-0.00021},{"p":7,"s":"B","t":24,"v":-0.00018},{"p":7,"s":"B","t":25,"v":-0.00016},
{"p":7,"s":"L","t":1,"v":0},{"p":7,"s":"L","t":2,"v":0.00025},{"p":7,"s":"L","t":3,"v":-0.0004},{"p":7,"s":"L","t":4,"v":-0.00018},{"p":7,"s":"L","t":5,"v":0.00037},{"p":7,"s":"L","t":6,"v":0.0005},{"p":7,"s":"L","t":7,"v":0.0004},{"p":7,"s":"L","t":8,"v":0.0004},{"p":7,"s":"L","t":9,"v":0.00043},{"p":7,"s":"L","t":10,"v":0.00035},{"p":7,"s":"L","t":11,"v":0.00018},{"p":7,"s":"L","t":12,"v":0.00002},{"p":7,"s":"L","t":13,"v":-0.00012},{"p":7,"s":"L","t":14,"v":-0.0002},{"p":7,"s":"L","t":15,"v":-0.00026},{"p":7,"s":"L","t":16,"v":-0.0003},{"p":7,"s":"L","t":17,"v":-0.00033},{"p":7,"s":"L","t":18,"v":-0.00035},{"p":7,"s":"L","t":19,"v":-0.00036},{"p":7,"s":"L","t":20,"v":-0.00037},{"p":7,"s":"L","t":21,"v":-0.00038},{"p":7,"s":"L","t":22,"v":-0.00038},{"p":7,"s":"L","t":23,"v":-0.00038},{"p":7,"s":"L","t":24,"v":-0.00038},{"p":7,"s":"L","t":25,"v":-0.00038},
{"p":7,"s":"C","t":1,"v":0},{"p":7,"s":"C","t":2,"v":0.00077},{"p":7,"s":"C","t":3,"v":0.00005},{"p":7,"s":"C","t":4,"v":0.00064},{"p":7,"s":"C","t":5,"v":0.00091},{"p":7,"s":"C","t":6,"v":0.0008},{"p":7,"s":"C","t":7,"v":0.00062},{"p":7,"s":"C","t":8,"v":0.00042},{"p":7,"s":"C","t":9,"v":0.0002},{"p":7,"s":"C","t":10,"v":0},{"p":7,"s":"C","t":11,"v":-0.00015},{"p":7,"s":"C","t":12,"v":-0.00032},{"p":7,"s":"C","t":13,"v":-0.00055},{"p":7,"s":"C","t":14,"v":-0.00079},{"p":7,"s":"C","t":15,"v":-0.00099},{"p":7,"s":"C","t":16,"v":-0.00108},{"p":7,"s":"C","t":17,"v":-0.00113},{"p":7,"s":"C","t":18,"v":-0.00112},{"p":7,"s":"C","t":19,"v":-0.00108},{"p":7,"s":"C","t":20,"v":-0.00101},{"p":7,"s":"C","t":21,"v":-0.00095},{"p":7,"s":"C","t":22,"v":-0.00089},{"p":7,"s":"C","t":23,"v":-0.00083},{"p":7,"s":"C","t":24,"v":-0.00077},{"p":7,"s":"C","t":25,"v":-0.0007},
{"p":7,"s":"V","t":1,"v":0},{"p":7,"s":"V","t":2,"v":0.00022},{"p":7,"s":"V","t":3,"v":-0.0004},{"p":7,"s":"V","t":4,"v":-0.00025},{"p":7,"s":"V","t":5,"v":0.00018},{"p":7,"s":"V","t":6,"v":0.00025},{"p":7,"s":"V","t":7,"v":0},{"p":7,"s":"V","t":8,"v":-0.00005},{"p":7,"s":"V","t":9,"v":0.0001},{"p":7,"s":"V","t":10,"v":0.0002},{"p":7,"s":"V","t":11,"v":0.00017},{"p":7,"s":"V","t":12,"v":0.00008},{"p":7,"s":"V","t":13,"v":-0.00005},{"p":7,"s":"V","t":14,"v":-0.00015},{"p":7,"s":"V","t":15,"v":-0.00023},{"p":7,"s":"V","t":16,"v":-0.00029},{"p":7,"s":"V","t":17,"v":-0.00034},{"p":7,"s":"V","t":18,"v":-0.00039},{"p":7,"s":"V","t":19,"v":-0.00043},{"p":7,"s":"V","t":20,"v":-0.00047},{"p":7,"s":"V","t":21,"v":-0.0005},{"p":7,"s":"V","t":22,"v":-0.00052},{"p":7,"s":"V","t":23,"v":-0.00054},{"p":7,"s":"V","t":24,"v":-0.00056},{"p":7,"s":"V","t":25,"v":-0.00057},
{"p":8,"s":"B","t":1,"v":0.0002},{"p":8,"s":"B","t":2,"v":-0.0018},{"p":8,"s":"B","t":3,"v":-0.0009},{"p":8,"s":"B","t":4,"v":0.0014},{"p":8,"s":"B","t":5,"v":0.003},{"p":8,"s":"B","t":6,"v":0.0037},{"p":8,"s":"B","t":7,"v":0.0038},{"p":8,"s":"B","t":8,"v":0.0037},{"p":8,"s":"B","t":9,"v":0.0035},{"p":8,"s":"B","t":10,"v":0.003},{"p":8,"s":"B","t":11,"v":0.0024},{"p":8,"s":"B","t":12,"v":0.0017},{"p":8,"s":"B","t":13,"v":0.001},{"p":8,"s":"B","t":14,"v":0.0004},{"p":8,"s":"B","t":15,"v":0},{"p":8,"s":"B","t":16,"v":-0.0002},{"p":8,"s":"B","t":17,"v":-0.0004},{"p":8,"s":"B","t":18,"v":-0.0006},{"p":8,"s":"B","t":19,"v":-0.00075},{"p":8,"s":"B","t":20,"v":-0.00087},{"p":8,"s":"B","t":21,"v":-0.00095},{"p":8,"s":"B","t":22,"v":-0.001},{"p":8,"s":"B","t":23,"v":-0.001},{"p":8,"s":"B","t":24,"v":-0.001},{"p":8,"s":"B","t":25,"v":-0.00097},
{"p":8,"s":"L","t":1,"v":0.0002},{"p":8,"s":"L","t":2,"v":-0.0005},{"p":8,"s":"L","t":3,"v":0.0005},{"p":8,"s":"L","t":4,"v":0.0025},{"p":8,"s":"L","t":5,"v":0.0037},{"p":8,"s":"L","t":6,"v":0.0042},{"p":8,"s":"L","t":7,"v":0.0041},{"p":8,"s":"L","t":8,"v":0.0038},{"p":8,"s":"L","t":9,"v":0.0034},{"p":8,"s":"L","t":10,"v":0.0029},{"p":8,"s":"L","t":11,"v":0.0023},{"p":8,"s":"L","t":12,"v":0.0017},{"p":8,"s":"L","t":13,"v":0.0013},{"p":8,"s":"L","t":14,"v":0.001},{"p":8,"s":"L","t":15,"v":0.0008},{"p":8,"s":"L","t":16,"v":0.0006},{"p":8,"s":"L","t":17,"v":0.0005},{"p":8,"s":"L","t":18,"v":0.0003},{"p":8,"s":"L","t":19,"v":0.0002},{"p":8,"s":"L","t":20,"v":0.0001},{"p":8,"s":"L","t":21,"v":0},{"p":8,"s":"L","t":22,"v":-0.0001},{"p":8,"s":"L","t":23,"v":-0.0002},{"p":8,"s":"L","t":24,"v":-0.0003},{"p":8,"s":"L","t":25,"v":-0.0004},
{"p":8,"s":"C","t":1,"v":0.0002},{"p":8,"s":"C","t":2,"v":-0.0019},{"p":8,"s":"C","t":3,"v":-0.0012},{"p":8,"s":"C","t":4,"v":0.0008},{"p":8,"s":"C","t":5,"v":0.0022},{"p":8,"s":"C","t":6,"v":0.0029},{"p":8,"s":"C","t":7,"v":0.0032},{"p":8,"s":"C","t":8,"v":0.0033},{"p":8,"s":"C","t":9,"v":0.0032},{"p":8,"s":"C","t":10,"v":0.0029},{"p":8,"s":"C","t":11,"v":0.0023},{"p":8,"s":"C","t":12,"v":0.0017},{"p":8,"s":"C","t":13,"v":0.0012},{"p":8,"s":"C","t":14,"v":0.0008},{"p":8,"s":"C","t":15,"v":0.0005},{"p":8,"s":"C","t":16,"v":0.0004},{"p":8,"s":"C","t":17,"v":0.0003},{"p":8,"s":"C","t":18,"v":0.0002},{"p":8,"s":"C","t":19,"v":0.0001},{"p":8,"s":"C","t":20,"v":0},{"p":8,"s":"C","t":21,"v":0},{"p":8,"s":"C","t":22,"v":-0.00003},{"p":8,"s":"C","t":23,"v":-0.00003},{"p":8,"s":"C","t":24,"v":0},{"p":8,"s":"C","t":25,"v":0},
{"p":8,"s":"V","t":1,"v":0.0002},{"p":8,"s":"V","t":2,"v":-0.0019},{"p":8,"s":"V","t":3,"v":-0.0013},{"p":8,"s":"V","t":4,"v":0.0004},{"p":8,"s":"V","t":5,"v":0.0011},{"p":8,"s":"V","t":6,"v":0.0012},{"p":8,"s":"V","t":7,"v":0.0012},{"p":8,"s":"V","t":8,"v":0.0015},{"p":8,"s":"V","t":9,"v":0.0018},{"p":8,"s":"V","t":10,"v":0.002},{"p":8,"s":"V","t":11,"v":0.002},{"p":8,"s":"V","t":12,"v":0.0019},{"p":8,"s":"V","t":13,"v":0.0017},{"p":8,"s":"V","t":14,"v":0.0016},{"p":8,"s":"V","t":15,"v":0.0015},{"p":8,"s":"V","t":16,"v":0.0014},{"p":8,"s":"V","t":17,"v":0.0013},{"p":8,"s":"V","t":18,"v":0.0012},{"p":8,"s":"V","t":19,"v":0.0011},{"p":8,"s":"V","t":20,"v":0.001},{"p":8,"s":"V","t":21,"v":0.0009},{"p":8,"s":"V","t":22,"v":0.0008},{"p":8,"s":"V","t":23,"v":0.0007},{"p":8,"s":"V","t":24,"v":0.0006},{"p":8,"s":"V","t":25,"v":0.0005},
{"p":9,"s":"B","t":1,"v":-0.0045},{"p":9,"s":"B","t":2,"v":-0.005},{"p":9,"s":"B","t":3,"v":0.003},{"p":9,"s":"B","t":4,"v":0.014},{"p":9,"s":"B","t":5,"v":0.0197},{"p":9,"s":"B","t":6,"v":0.0205},{"p":9,"s":"B","t":7,"v":0.0178},{"p":9,"s":"B","t":8,"v":0.0145},{"p":9,"s":"B","t":9,"v":0.0122},{"p":9,"s":"B","t":10,"v":0.0102},{"p":9,"s":"B","t":11,"v":0.0087},{"p":9,"s":"B","t":12,"v":0.0077},{"p":9,"s":"B","t":13,"v":0.007},{"p":9,"s":"B","t":14,"v":0.0065},{"p":9,"s":"B","t":15,"v":0.0061},{"p":9,"s":"B","t":16,"v":0.0058},{"p":9,"s":"B","t":17,"v":0.0054},{"p":9,"s":"B","t":18,"v":0.005},{"p":9,"s":"B","t":19,"v":0.0045},{"p":9,"s":"B","t":20,"v":0.004},{"p":9,"s":"B","t":21,"v":0.0034},{"p":9,"s":"B","t":22,"v":0.0027},{"p":9,"s":"B","t":23,"v":0.0018},{"p":9,"s":"B","t":24,"v":0.0008},{"p":9,"s":"B","t":25,"v":-0.0001},
{"p":9,"s":"L","t":1,"v":-0.0045},{"p":9,"s":"L","t":2,"v":0},{"p":9,"s":"L","t":3,"v":0.0089},{"p":9,"s":"L","t":4,"v":0.0188},{"p":9,"s":"L","t":5,"v":0.0248},{"p":9,"s":"L","t":6,"v":0.0272},{"p":9,"s":"L","t":7,"v":0.027},{"p":9,"s":"L","t":8,"v":0.0263},{"p":9,"s":"L","t":9,"v":0.0253},{"p":9,"s":"L","t":10,"v":0.024},{"p":9,"s":"L","t":11,"v":0.0224},{"p":9,"s":"L","t":12,"v":0.0205},{"p":9,"s":"L","t":13,"v":0.0185},{"p":9,"s":"L","t":14,"v":0.0163},{"p":9,"s":"L","t":15,"v":0.0142},{"p":9,"s":"L","t":16,"v":0.0122},{"p":9,"s":"L","t":17,"v":0.0103},{"p":9,"s":"L","t":18,"v":0.0085},{"p":9,"s":"L","t":19,"v":0.0069},{"p":9,"s":"L","t":20,"v":0.0054},{"p":9,"s":"L","t":21,"v":0.0042},{"p":9,"s":"L","t":22,"v":0.0031},{"p":9,"s":"L","t":23,"v":0.0019},{"p":9,"s":"L","t":24,"v":0.0004},{"p":9,"s":"L","t":25,"v":-0.0012},
{"p":9,"s":"C","t":1,"v":-0.0045},{"p":9,"s":"C","t":2,"v":-0.005},{"p":9,"s":"C","t":3,"v":0.002},{"p":9,"s":"C","t":4,"v":0.012},{"p":9,"s":"C","t":5,"v":0.0168},{"p":9,"s":"C","t":6,"v":0.0178},{"p":9,"s":"C","t":7,"v":0.0163},{"p":9,"s":"C","t":8,"v":0.0138},{"p":9,"s":"C","t":9,"v":0.0113},{"p":9,"s":"C","t":10,"v":0.0094},{"p":9,"s":"C","t":11,"v":0.008},{"p":9,"s":"C","t":12,"v":0.007},{"p":9,"s":"C","t":13,"v":0.0064},{"p":9,"s":"C","t":14,"v":0.006},{"p":9,"s":"C","t":15,"v":0.0058},{"p":9,"s":"C","t":16,"v":0.0057},{"p":9,"s":"C","t":17,"v":0.0056},{"p":9,"s":"C","t":18,"v":0.0056},{"p":9,"s":"C","t":19,"v":0.0055},{"p":9,"s":"C","t":20,"v":0.0055},{"p":9,"s":"C","t":21,"v":0.0053},{"p":9,"s":"C","t":22,"v":0.0051},{"p":9,"s":"C","t":23,"v":0.005},{"p":9,"s":"C","t":24,"v":0.0048},{"p":9,"s":"C","t":25,"v":0.0046},
{"p":9,"s":"V","t":1,"v":-0.0079},{"p":9,"s":"V","t":2,"v":-0.0045},{"p":9,"s":"V","t":3,"v":-0.001},{"p":9,"s":"V","t":4,"v":0.0075},{"p":9,"s":"V","t":5,"v":0.013},{"p":9,"s":"V","t":6,"v":0.0147},{"p":9,"s":"V","t":7,"v":0.0146},{"p":9,"s":"V","t":8,"v":0.0146},{"p":9,"s":"V","t":9,"v":0.0148},{"p":9,"s":"V","t":10,"v":0.015},{"p":9,"s":"V","t":11,"v":0.015},{"p":9,"s":"V","t":12,"v":0.0149},{"p":9,"s":"V","t":13,"v":0.0147},{"p":9,"s":"V","t":14,"v":0.0144},{"p":9,"s":"V","t":15,"v":0.014},{"p":9,"s":"V","t":16,"v":0.0135},{"p":9,"s":"V","t":17,"v":0.0129},{"p":9,"s":"V","t":18,"v":0.0122},{"p":9,"s":"V","t":19,"v":0.0115},{"p":9,"s":"V","t":20,"v":0.0107},{"p":9,"s":"V","t":21,"v":0.0098},{"p":9,"s":"V","t":22,"v":0.0089},{"p":9,"s":"V","t":23,"v":0.008},{"p":9,"s":"V","t":24,"v":0.0071},{"p":9,"s":"V","t":25,"v":0.0062}
]},
"concat": [
{"title":"Chinese steel production","width":318,"height":189,"layer":[
 {"data":{"values":[{}]},"mark":{"type":"rule","color":"#555","strokeWidth":1},"encoding":{"y":{"datum":0,"type":"quantitative","title":null,"axis":{"labelOverlap":false,"labelFlush":false,"values":[-0.02,-0.015,-0.01,-0.005,0,0.005,0.01],"labelExpr":"(datum.value < -1e-9 ? '-' : '') + replace(format(abs(datum.value), '.3f'), '0.', '.')"}}}},
 {"transform":[{"filter":"datum.p == 1"}],"mark":{"type":"line","color":"#111","strokeWidth":1},"encoding":{
  "x":{"field":"t","type":"quantitative","title":null,"scale":{"domain":[1,25],"nice":false,"zero":false},"axis":{"labelOverlap":false,"labelFlush":false,"values":[1,2,3,4,5,6,7,8,9,10,11,12,13,14,15,16,17,18,19,20,21,22,23,24,25],"labelExpr":"datum.value % 5 == 0 ? datum.label : ''"}},
  "y":{"field":"v","type":"quantitative","title":null,"scale":{"domain":[-0.02,0.01],"nice":false,"zero":false},"axis":{"labelOverlap":false,"labelFlush":false,"values":[-0.02,-0.015,-0.01,-0.005,0,0.005,0.01],"labelExpr":"(datum.value < -1e-9 ? '-' : '') + replace(format(abs(datum.value), '.3f'), '0.', '.')"}},
  "strokeDash":{"field":"s","type":"nominal","scale":{"domain":["B","L","C","V"],"range":[[1,0],[14,4],[9,3,3,3],[4,3]]},"legend":{"orient":"none","legendX":267,"legendY":777,"direction":"horizontal","columns":2,"title":null,"symbolType":"stroke","symbolSize":1600,"symbolStrokeWidth":1,"symbolStrokeColor":"#222","labelFont":"Liberation Serif, DejaVu Serif, serif","labelFontSize":24,"labelColor":"#222","labelOffset":8,"columnPadding":18,"rowPadding":-9,"labelLimit":400,"labelExpr":"datum.label == 'B' ? 'Benchmark sample period' : datum.label == 'L' ? 'Long sample period' : datum.label == 'C' ? 'Commodity boom period' : 'Variables in levels'"}}
 }}]},
{"title":"Real commodity prices","width":318,"height":189,"layer":[
 {"data":{"values":[{}]},"mark":{"type":"rule","color":"#555","strokeWidth":1},"encoding":{"y":{"datum":0,"type":"quantitative","title":null,"axis":{"labelOverlap":false,"labelFlush":false,"values":[-0.02,-0.016,-0.012,-0.008,-0.004,0,0.004],"labelExpr":"(datum.value < -1e-9 ? '-' : '') + replace(format(abs(datum.value), '.3f'), '0.', '.')"}}}},
 {"transform":[{"filter":"datum.p == 2"}],"mark":{"type":"line","color":"#111","strokeWidth":1},"encoding":{
  "x":{"field":"t","type":"quantitative","title":null,"scale":{"domain":[1,25],"nice":false,"zero":false},"axis":{"labelOverlap":false,"labelFlush":false,"values":[1,2,3,4,5,6,7,8,9,10,11,12,13,14,15,16,17,18,19,20,21,22,23,24,25],"labelExpr":"datum.value % 5 == 0 ? datum.label : ''"}},
  "y":{"field":"v","type":"quantitative","title":null,"scale":{"domain":[-0.02,0.004],"nice":false,"zero":false},"axis":{"labelOverlap":false,"labelFlush":false,"values":[-0.02,-0.016,-0.012,-0.008,-0.004,0,0.004],"labelExpr":"(datum.value < -1e-9 ? '-' : '') + replace(format(abs(datum.value), '.3f'), '0.', '.')"}},
  "strokeDash":{"field":"s","type":"nominal","scale":{"domain":["B","L","C","V"],"range":[[1,0],[14,4],[9,3,3,3],[4,3]]},"legend":{"orient":"none","legendX":267,"legendY":777,"direction":"horizontal","columns":2,"title":null,"symbolType":"stroke","symbolSize":1600,"symbolStrokeWidth":1,"symbolStrokeColor":"#222","labelFont":"Liberation Serif, DejaVu Serif, serif","labelFontSize":24,"labelColor":"#222","labelOffset":8,"columnPadding":18,"rowPadding":-9,"labelLimit":400,"labelExpr":"datum.label == 'B' ? 'Benchmark sample period' : datum.label == 'L' ? 'Long sample period' : datum.label == 'C' ? 'Commodity boom period' : 'Variables in levels'"}}
 }}]},
{"title":"Foreign output","width":318,"height":189,"layer":[
 {"data":{"values":[{}]},"mark":{"type":"rule","color":"#555","strokeWidth":1},"encoding":{"y":{"datum":0,"type":"quantitative","title":null,"axis":{"labelOverlap":false,"labelFlush":false,"values":[-0.001,0,0.001,0.002,0.003,0.004,0.005,0.006],"labelExpr":"(datum.value < -1e-9 ? '-' : '') + replace(format(abs(datum.value), '.3f'), '0.', '.')"}}}},
 {"transform":[{"filter":"datum.p == 3"}],"mark":{"type":"line","color":"#111","strokeWidth":1},"encoding":{
  "x":{"field":"t","type":"quantitative","title":null,"scale":{"domain":[1,25],"nice":false,"zero":false},"axis":{"labelOverlap":false,"labelFlush":false,"values":[1,2,3,4,5,6,7,8,9,10,11,12,13,14,15,16,17,18,19,20,21,22,23,24,25],"labelExpr":"datum.value % 5 == 0 ? datum.label : ''"}},
  "y":{"field":"v","type":"quantitative","title":null,"scale":{"domain":[-0.001,0.006],"nice":false,"zero":false},"axis":{"labelOverlap":false,"labelFlush":false,"values":[-0.001,0,0.001,0.002,0.003,0.004,0.005,0.006],"labelExpr":"(datum.value < -1e-9 ? '-' : '') + replace(format(abs(datum.value), '.3f'), '0.', '.')"}},
  "strokeDash":{"field":"s","type":"nominal","scale":{"domain":["B","L","C","V"],"range":[[1,0],[14,4],[9,3,3,3],[4,3]]},"legend":{"orient":"none","legendX":267,"legendY":777,"direction":"horizontal","columns":2,"title":null,"symbolType":"stroke","symbolSize":1600,"symbolStrokeWidth":1,"symbolStrokeColor":"#222","labelFont":"Liberation Serif, DejaVu Serif, serif","labelFontSize":24,"labelColor":"#222","labelOffset":8,"columnPadding":18,"rowPadding":-9,"labelLimit":400,"labelExpr":"datum.label == 'B' ? 'Benchmark sample period' : datum.label == 'L' ? 'Long sample period' : datum.label == 'C' ? 'Commodity boom period' : 'Variables in levels'"}}
 }}]},
{"title":"Resource exports","width":318,"height":189,"layer":[
 {"data":{"values":[{}]},"mark":{"type":"rule","color":"#555","strokeWidth":1},"encoding":{"y":{"datum":0,"type":"quantitative","title":null,"axis":{"labelOverlap":false,"labelFlush":false,"values":[-0.07,-0.06,-0.05,-0.04,-0.03,-0.02,-0.01,0,0.01],"labelExpr":"(datum.value < -1e-9 ? '-' : '') + replace(format(abs(datum.value), '.2f'), '0.', '.')"}}}},
 {"transform":[{"filter":"datum.p == 4"}],"mark":{"type":"line","color":"#111","strokeWidth":1},"encoding":{
  "x":{"field":"t","type":"quantitative","title":null,"scale":{"domain":[1,25],"nice":false,"zero":false},"axis":{"labelOverlap":false,"labelFlush":false,"values":[1,2,3,4,5,6,7,8,9,10,11,12,13,14,15,16,17,18,19,20,21,22,23,24,25],"labelExpr":"datum.value % 5 == 0 ? datum.label : ''"}},
  "y":{"field":"v","type":"quantitative","title":null,"scale":{"domain":[-0.07,0.01],"nice":false,"zero":false},"axis":{"labelOverlap":false,"labelFlush":false,"values":[-0.07,-0.06,-0.05,-0.04,-0.03,-0.02,-0.01,0,0.01],"labelExpr":"(datum.value < -1e-9 ? '-' : '') + replace(format(abs(datum.value), '.2f'), '0.', '.')"}},
  "strokeDash":{"field":"s","type":"nominal","scale":{"domain":["B","L","C","V"],"range":[[1,0],[14,4],[9,3,3,3],[4,3]]},"legend":{"orient":"none","legendX":267,"legendY":777,"direction":"horizontal","columns":2,"title":null,"symbolType":"stroke","symbolSize":1600,"symbolStrokeWidth":1,"symbolStrokeColor":"#222","labelFont":"Liberation Serif, DejaVu Serif, serif","labelFontSize":24,"labelColor":"#222","labelOffset":8,"columnPadding":18,"rowPadding":-9,"labelLimit":400,"labelExpr":"datum.label == 'B' ? 'Benchmark sample period' : datum.label == 'L' ? 'Long sample period' : datum.label == 'C' ? 'Commodity boom period' : 'Variables in levels'"}}
 }}]},
{"title":"Primary commodity sector","width":318,"height":189,"layer":[
 {"data":{"values":[{}]},"mark":{"type":"rule","color":"#555","strokeWidth":1},"encoding":{"y":{"datum":0,"type":"quantitative","title":null,"axis":{"labelOverlap":false,"labelFlush":false,"values":[-0.004,-0.003,-0.002,-0.001,0,0.001,0.002,0.003,0.004],"labelExpr":"(datum.value < -1e-9 ? '-' : '') + replace(format(abs(datum.value), '.3f'), '0.', '.')"}}}},
 {"transform":[{"filter":"datum.p == 5"}],"mark":{"type":"line","color":"#111","strokeWidth":1},"encoding":{
  "x":{"field":"t","type":"quantitative","title":null,"scale":{"domain":[1,25],"nice":false,"zero":false},"axis":{"labelOverlap":false,"labelFlush":false,"values":[1,2,3,4,5,6,7,8,9,10,11,12,13,14,15,16,17,18,19,20,21,22,23,24,25],"labelExpr":"datum.value % 5 == 0 ? datum.label : ''"}},
  "y":{"field":"v","type":"quantitative","title":null,"scale":{"domain":[-0.004,0.004],"nice":false,"zero":false},"axis":{"labelOverlap":false,"labelFlush":false,"values":[-0.004,-0.003,-0.002,-0.001,0,0.001,0.002,0.003,0.004],"labelExpr":"(datum.value < -1e-9 ? '-' : '') + replace(format(abs(datum.value), '.3f'), '0.', '.')"}},
  "strokeDash":{"field":"s","type":"nominal","scale":{"domain":["B","L","C","V"],"range":[[1,0],[14,4],[9,3,3,3],[4,3]]},"legend":{"orient":"none","legendX":267,"legendY":777,"direction":"horizontal","columns":2,"title":null,"symbolType":"stroke","symbolSize":1600,"symbolStrokeWidth":1,"symbolStrokeColor":"#222","labelFont":"Liberation Serif, DejaVu Serif, serif","labelFontSize":24,"labelColor":"#222","labelOffset":8,"columnPadding":18,"rowPadding":-9,"labelLimit":400,"labelExpr":"datum.label == 'B' ? 'Benchmark sample period' : datum.label == 'L' ? 'Long sample period' : datum.label == 'C' ? 'Commodity boom period' : 'Variables in levels'"}}
 }}]},
{"title":"Domestic output","width":318,"height":189,"layer":[
 {"data":{"values":[{}]},"mark":{"type":"rule","color":"#555","strokeWidth":1},"encoding":{"y":{"datum":0,"type":"quantitative","title":null,"axis":{"labelOverlap":false,"labelFlush":false,"values":[-0.01,-0.008,-0.006,-0.004,-0.002,0,0.002,0.004],"labelExpr":"(datum.value < -1e-9 ? '-' : '') + replace(format(abs(datum.value), '.3f'), '0.', '.')"}}}},
 {"transform":[{"filter":"datum.p == 6"}],"mark":{"type":"line","color":"#111","strokeWidth":1},"encoding":{
  "x":{"field":"t","type":"quantitative","title":null,"scale":{"domain":[1,25],"nice":false,"zero":false},"axis":{"labelOverlap":false,"labelFlush":false,"values":[1,2,3,4,5,6,7,8,9,10,11,12,13,14,15,16,17,18,19,20,21,22,23,24,25],"labelExpr":"datum.value % 5 == 0 ? datum.label : ''"}},
  "y":{"field":"v","type":"quantitative","title":null,"scale":{"domain":[-0.01,0.004],"nice":false,"zero":false},"axis":{"labelOverlap":false,"labelFlush":false,"values":[-0.01,-0.008,-0.006,-0.004,-0.002,0,0.002,0.004],"labelExpr":"(datum.value < -1e-9 ? '-' : '') + replace(format(abs(datum.value), '.3f'), '0.', '.')"}},
  "strokeDash":{"field":"s","type":"nominal","scale":{"domain":["B","L","C","V"],"range":[[1,0],[14,4],[9,3,3,3],[4,3]]},"legend":{"orient":"none","legendX":267,"legendY":777,"direction":"horizontal","columns":2,"title":null,"symbolType":"stroke","symbolSize":1600,"symbolStrokeWidth":1,"symbolStrokeColor":"#222","labelFont":"Liberation Serif, DejaVu Serif, serif","labelFontSize":24,"labelColor":"#222","labelOffset":8,"columnPadding":18,"rowPadding":-9,"labelLimit":400,"labelExpr":"datum.label == 'B' ? 'Benchmark sample period' : datum.label == 'L' ? 'Long sample period' : datum.label == 'C' ? 'Commodity boom period' : 'Variables in levels'"}}
 }}]},
{"title":"Inflation","width":318,"height":189,"layer":[
 {"data":{"values":[{}]},"mark":{"type":"rule","color":"#555","strokeWidth":1},"encoding":{"y":{"datum":0,"type":"quantitative","title":null,"axis":{"labelOverlap":false,"labelFlush":false,"values":[-0.0012,-0.0008,-0.0004,0,0.0004,0.0008,0.0012],"labelExpr":"(datum.value < -1e-9 ? '-' : '') + replace(format(abs(datum.value), '.3f'), '0.', '.')"}}}},
 {"transform":[{"filter":"datum.p == 7"}],"mark":{"type":"line","color":"#111","strokeWidth":1},"encoding":{
  "x":{"field":"t","type":"quantitative","title":null,"scale":{"domain":[1,25],"nice":false,"zero":false},"axis":{"labelOverlap":false,"labelFlush":false,"values":[1,2,3,4,5,6,7,8,9,10,11,12,13,14,15,16,17,18,19,20,21,22,23,24,25],"labelExpr":"datum.value % 5 == 0 ? datum.label : ''"}},
  "y":{"field":"v","type":"quantitative","title":null,"scale":{"domain":[-0.0012,0.0012],"nice":false,"zero":false},"axis":{"labelOverlap":false,"labelFlush":false,"values":[-0.0012,-0.0008,-0.0004,0,0.0004,0.0008,0.0012],"labelExpr":"(datum.value < -1e-9 ? '-' : '') + replace(format(abs(datum.value), '.3f'), '0.', '.')"}},
  "strokeDash":{"field":"s","type":"nominal","scale":{"domain":["B","L","C","V"],"range":[[1,0],[14,4],[9,3,3,3],[4,3]]},"legend":{"orient":"none","legendX":267,"legendY":777,"direction":"horizontal","columns":2,"title":null,"symbolType":"stroke","symbolSize":1600,"symbolStrokeWidth":1,"symbolStrokeColor":"#222","labelFont":"Liberation Serif, DejaVu Serif, serif","labelFontSize":24,"labelColor":"#222","labelOffset":8,"columnPadding":18,"rowPadding":-9,"labelLimit":400,"labelExpr":"datum.label == 'B' ? 'Benchmark sample period' : datum.label == 'L' ? 'Long sample period' : datum.label == 'C' ? 'Commodity boom period' : 'Variables in levels'"}}
 }}]},
{"title":"Interest rate","width":318,"height":189,"layer":[
 {"data":{"values":[{}]},"mark":{"type":"rule","color":"#555","strokeWidth":1},"encoding":{"y":{"datum":0,"type":"quantitative","title":null,"axis":{"labelOverlap":false,"labelFlush":false,"values":[-0.002,-0.001,0,0.001,0.002,0.003,0.004,0.005],"labelExpr":"(datum.value < -1e-9 ? '-' : '') + replace(format(abs(datum.value), '.3f'), '0.', '.')"}}}},
 {"transform":[{"filter":"datum.p == 8"}],"mark":{"type":"line","color":"#111","strokeWidth":1},"encoding":{
  "x":{"field":"t","type":"quantitative","title":null,"scale":{"domain":[1,25],"nice":false,"zero":false},"axis":{"labelOverlap":false,"labelFlush":false,"values":[1,2,3,4,5,6,7,8,9,10,11,12,13,14,15,16,17,18,19,20,21,22,23,24,25],"labelExpr":"datum.value % 5 == 0 ? datum.label : ''"}},
  "y":{"field":"v","type":"quantitative","title":null,"scale":{"domain":[-0.002,0.005],"nice":false,"zero":false},"axis":{"labelOverlap":false,"labelFlush":false,"values":[-0.002,-0.001,0,0.001,0.002,0.003,0.004,0.005],"labelExpr":"(datum.value < -1e-9 ? '-' : '') + replace(format(abs(datum.value), '.3f'), '0.', '.')"}},
  "strokeDash":{"field":"s","type":"nominal","scale":{"domain":["B","L","C","V"],"range":[[1,0],[14,4],[9,3,3,3],[4,3]]},"legend":{"orient":"none","legendX":267,"legendY":777,"direction":"horizontal","columns":2,"title":null,"symbolType":"stroke","symbolSize":1600,"symbolStrokeWidth":1,"symbolStrokeColor":"#222","labelFont":"Liberation Serif, DejaVu Serif, serif","labelFontSize":24,"labelColor":"#222","labelOffset":8,"columnPadding":18,"rowPadding":-9,"labelLimit":400,"labelExpr":"datum.label == 'B' ? 'Benchmark sample period' : datum.label == 'L' ? 'Long sample period' : datum.label == 'C' ? 'Commodity boom period' : 'Variables in levels'"}}
 }}]},
{"title":"Real exchange rate","width":318,"height":189,"layer":[
 {"data":{"values":[{}]},"mark":{"type":"rule","color":"#555","strokeWidth":1},"encoding":{"y":{"datum":0,"type":"quantitative","title":null,"axis":{"labelOverlap":false,"labelFlush":false,"values":[-0.008,-0.004,0,0.004,0.008,0.012,0.016,0.02,0.024,0.028],"labelExpr":"(datum.value < -1e-9 ? '-' : '') + replace(format(abs(datum.value), '.3f'), '0.', '.')"}}}},
 {"transform":[{"filter":"datum.p == 9"}],"mark":{"type":"line","color":"#111","strokeWidth":1},"encoding":{
  "x":{"field":"t","type":"quantitative","title":null,"scale":{"domain":[1,25],"nice":false,"zero":false},"axis":{"labelOverlap":false,"labelFlush":false,"values":[1,2,3,4,5,6,7,8,9,10,11,12,13,14,15,16,17,18,19,20,21,22,23,24,25],"labelExpr":"datum.value % 5 == 0 ? datum.label : ''"}},
  "y":{"field":"v","type":"quantitative","title":null,"scale":{"domain":[-0.008,0.028],"nice":false,"zero":false},"axis":{"labelOverlap":false,"labelFlush":false,"values":[-0.008,-0.004,0,0.004,0.008,0.012,0.016,0.02,0.024,0.028],"labelExpr":"(datum.value < -1e-9 ? '-' : '') + replace(format(abs(datum.value), '.3f'), '0.', '.')"}},
  "strokeDash":{"field":"s","type":"nominal","scale":{"domain":["B","L","C","V"],"range":[[1,0],[14,4],[9,3,3,3],[4,3]]},"legend":{"orient":"none","legendX":267,"legendY":777,"direction":"horizontal","columns":2,"title":null,"symbolType":"stroke","symbolSize":1600,"symbolStrokeWidth":1,"symbolStrokeColor":"#222","labelFont":"Liberation Serif, DejaVu Serif, serif","labelFontSize":24,"labelColor":"#222","labelOffset":8,"columnPadding":18,"rowPadding":-9,"labelLimit":400,"labelExpr":"datum.label == 'B' ? 'Benchmark sample period' : datum.label == 'L' ? 'Long sample period' : datum.label == 'C' ? 'Commodity boom period' : 'Variables in levels'"}}
 }}]}
]
}
